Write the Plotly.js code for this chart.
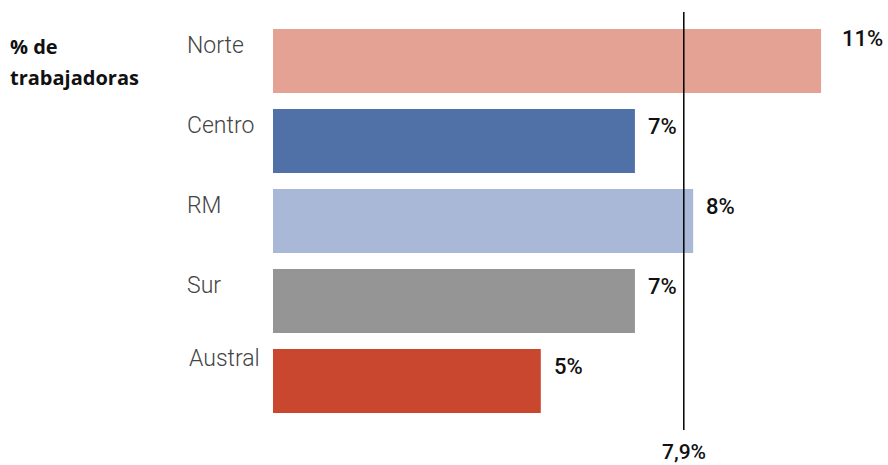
<!DOCTYPE html>
<html>
<head>
<meta charset="utf-8">
<script src="https://cdn.plot.ly/plotly-3.0.1.min.js"></script>
<style>html,body{margin:0;padding:0;background:#fff;}#chart{width:888px;height:465px;}</style>
</head>
<body>
<div id="chart"></div>
<script>
const categories = ["Norte", "Centro", "RM", "Sur", "Austral"];
const values = [10.54, 6.96, 8.08, 6.96, 5.15];
const valueLabels = ["11%", "7%", "8%", "7%", "5%"];
const colors = ["#E4A294", "#5070A8", "#A8B8D6", "#959595", "#C8472E"];
const referenceValue = 7.9;
const referenceLabel = "7,9%";
const titleLines = ["% de", "trabajadoras"];

const trace = {
  type: "bar",
  orientation: "h",
  y: categories,
  x: values,
  marker: { color: colors },
  hoverinfo: "none"
};

const annotations = [];
categories.forEach((c, i) => {
  const first = i === 0;
  const last = i === categories.length - 1;
  annotations.push({
    xref: "paper", x: 0, yref: "y", y: c,
    xanchor: "left", yanchor: "middle", borderpad: 0,
    xshift: last ? -85 : -87, yshift: last ? 23 : 16,
    text: c, showarrow: false,
    font: { family: "Roboto", size: 23, color: "#444444", weight: 300 }
  });
  annotations.push({
    xref: "x", x: values[i], yref: "y", y: c,
    xanchor: "left", yanchor: "middle", borderpad: 0,
    xshift: first ? 20 : 12, yshift: first ? 23 : 15,
    text: valueLabels[i], showarrow: false,
    font: { family: "Roboto", size: 22, color: "#111111", weight: 500 }
  });
});
annotations.push({
  xref: "x", x: referenceValue, yref: "paper", y: 0,
  xanchor: "center", yanchor: "middle", yshift: -22, borderpad: 0,
  text: referenceLabel, showarrow: false,
  font: { family: "Roboto", size: 21, color: "#111111", weight: 500 }
});
annotations.push({
  xref: "paper", x: 0, yref: "paper", y: 1,
  xanchor: "left", yanchor: "middle", xshift: -264, yshift: -34, borderpad: 0,
  text: titleLines[0], showarrow: false,
  font: { family: "Open Sans", size: 20, color: "#111111", weight: 700 }
});
annotations.push({
  xref: "paper", x: 0, yref: "paper", y: 1,
  xanchor: "left", yanchor: "middle", xshift: -264, yshift: -65, borderpad: 0,
  text: titleLines[1], showarrow: false,
  font: { family: "Open Sans", size: 20, color: "#111111", weight: 700 }
});

const layout = {
  width: 888, height: 465,
  margin: { l: 273, r: 43, t: 12, b: 35 },
  paper_bgcolor: "#ffffff", plot_bgcolor: "#ffffff",
  showlegend: false,
  bargap: 0.2,
  xaxis: { range: [0, 11], showgrid: false, zeroline: false, showticklabels: false, showline: false, fixedrange: true },
  yaxis: { type: "category", categoryorder: "array", categoryarray: categories,
           range: [4.6125, -0.6125], showgrid: false, zeroline: false, showticklabels: false, showline: false },
  shapes: [{
    type: "line", xref: "x", x0: referenceValue, x1: referenceValue,
    yref: "paper", y0: 0, y1: 1,
    line: { color: "#000000", width: 1.5 }
  }],
  annotations: annotations
};

Plotly.newPlot("chart", [trace], layout, { displayModeBar: false, staticPlot: true });
</script>
</body>
</html>
